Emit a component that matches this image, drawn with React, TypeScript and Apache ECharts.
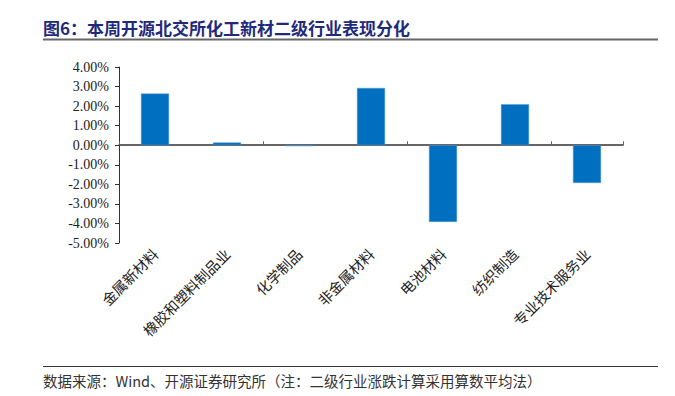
import React, { useEffect, useRef } from "react";
import * as echarts from "echarts";

const categories = ["金属新材料", "橡胶和塑料制品业", "化学制品", "非金属材料", "电池材料", "纺织制造", "专业技术服务业"];
const values = [2.64, 0.14, -0.05, 2.93, -3.92, 2.1, -1.93];
const titleText = "图6：本周开源北交所化工新材二级行业表现分化";
const footerText = "数据来源：Wind、开源证券研究所（注：二级行业涨跌计算采用算数平均法）";

export default function App() {
  const ref = useRef<HTMLDivElement>(null);
  useEffect(() => {
    const chart = echarts.init(ref.current!, null, { renderer: "svg" });
    const serif = "'Liberation Serif', 'Times New Roman', serif";
    const cjk = "'Noto Sans CJK SC', sans-serif";
    chart.setOption({
      animation: false,
      backgroundColor: "#ffffff",
      grid: { left: 119, right: 52, top: 67, bottom: 153, containLabel: false },
      xAxis: [
        {
          type: "category",
          data: categories,
          axisLine: { onZero: true, lineStyle: { color: "#333", width: 1.5 } },
          axisTick: { show: true, inside: true, length: 4, lineStyle: { color: "#666" } },
          axisLabel: { show: false },
          splitLine: { show: false },
        },
        {
          type: "category",
          data: categories,
          position: "bottom",
          axisLine: { show: false },
          axisTick: { show: false },
          axisLabel: {
            show: true,
            rotate: 45,
            margin: 8,
            interval: 0,
            fontSize: 14.5,
            color: "#222",
            fontFamily: cjk,
          },
        },
      ],
      yAxis: {
        type: "value",
        min: -5,
        max: 4,
        interval: 1,
        axisLine: { show: true, lineStyle: { color: "#333", width: 1 } },
        axisTick: { show: true, inside: false, length: 4, lineStyle: { color: "#333" } },
        splitLine: { show: false },
        axisLabel: {
          fontSize: 14,
          color: "#222",
          fontFamily: serif,
          margin: 10,
          formatter: (v: number) => v.toFixed(2) + "%",
        },
      },
      series: [
        {
          type: "bar",
          data: values,
          xAxisIndex: 0,
          barWidth: "39%",
          itemStyle: { color: "#006fc0", borderColor: "#5b9bd5", borderWidth: 0.5 },
        },
      ],
      graphic: [
        {
          type: "text",
          left: 43,
          top: 19,
          style: { text: titleText, fontSize: 17, fontWeight: "bold", fill: "#1f2a7c", fontFamily: cjk },
        },
        {
          type: "line",
          shape: { x1: 43, y1: 39.5, x2: 658, y2: 39.5 },
          style: { stroke: "#666", lineWidth: 2 },
        },
        {
          type: "line",
          shape: { x1: 43, y1: 366.5, x2: 658, y2: 366.5 },
          style: { stroke: "#333", lineWidth: 1 },
        },
        {
          type: "text",
          left: 43,
          top: 373,
          style: { text: footerText, fontSize: 14.5, fill: "#333", fontFamily: cjk },
        },
      ],
    });
    return () => chart.dispose();
  }, []);
  return <div ref={ref} style={{ width: 675, height: 396, position: "absolute", left: 0, top: 0 }} />;
}
